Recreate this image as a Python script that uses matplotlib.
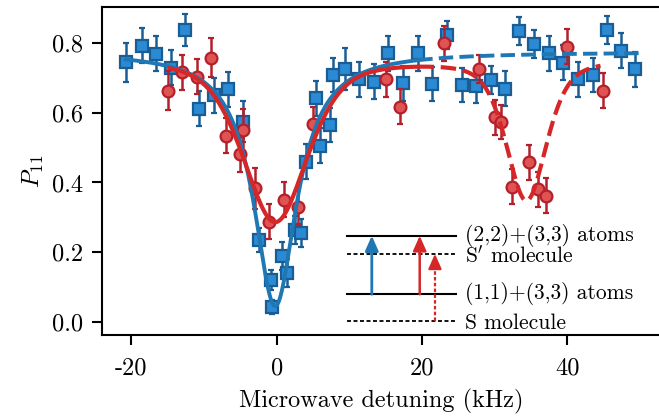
import numpy as np
import matplotlib
matplotlib.use('Agg')
import matplotlib.pyplot as plt

plt.rcParams['font.family'] = 'serif'
plt.rcParams['font.serif'] = ['cmr10']
plt.rcParams['mathtext.fontset'] = 'cm'
plt.rcParams['axes.unicode_minus'] = False
plt.rcParams['axes.formatter.use_mathtext'] = False

# (2,2)+(3,3) transition data (blue squares)
blue_x = [-20.7, -18.6, -16.6, -14.6, -12.6, -10.7, -8.6, -6.7, -4.7,
          -2.5, -0.8, -0.6, 0.8, 1.4, 2.5, 3.4, 4.1, 5.4, 6.0, 7.3, 7.7,
          9.4, 11.4, 13.4, 15.4, 17.4, 19.4, 21.4, 23.4, 25.5, 27.5, 29.5,
          31.4, 33.4, 35.5, 37.5, 39.5, 41.5, 43.5, 45.5, 47.4, 49.4]
blue_y = [0.745, 0.793, 0.770, 0.730, 0.838, 0.612, 0.650, 0.668, 0.575,
          0.235, 0.120, 0.042, 0.190, 0.141, 0.264, 0.256, 0.460, 0.642, 0.506, 0.565, 0.709,
          0.726, 0.697, 0.690, 0.771, 0.685, 0.771, 0.683, 0.824, 0.680, 0.677, 0.694,
          0.669, 0.836, 0.797, 0.771, 0.744, 0.697, 0.709, 0.838, 0.778, 0.725]
blue_err = [0.057, 0.05, 0.05, 0.05, 0.045, 0.05, 0.05, 0.05, 0.06,
            0.035, 0.03, 0.02, 0.04, 0.04, 0.04, 0.04, 0.05, 0.05, 0.05, 0.05, 0.05,
            0.06, 0.05, 0.05, 0.05, 0.05, 0.05, 0.05, 0.04, 0.05, 0.05, 0.04,
            0.05, 0.04, 0.04, 0.05, 0.05, 0.05, 0.05, 0.04, 0.05, 0.05]

# (1,1)+(3,3) transition data (red circles)
red_x = [-15.0, -13.0, -11.0, -9.0, -7.0, -5.0, -4.7, -3.0, -1.0, 1.0, 3.0, 5.0,
         15.1, 17.0, 23.0, 27.8, 30.1, 30.9, 32.4, 34.8, 36.0, 37.1, 40.0, 45.0]
red_y = [0.664, 0.716, 0.704, 0.759, 0.534, 0.481, 0.551, 0.383, 0.287, 0.350, 0.329, 0.568,
         0.697, 0.618, 0.800, 0.726, 0.587, 0.574, 0.388, 0.458, 0.381, 0.362, 0.790, 0.664]
red_err = [0.055, 0.05, 0.05, 0.055, 0.05, 0.05, 0.06, 0.06, 0.05, 0.05, 0.05, 0.05,
           0.05, 0.05, 0.05, 0.04, 0.05, 0.05, 0.05, 0.05, 0.05, 0.05, 0.05, 0.05]

# fit parameters: baseline, depth, centre, hwhm, lorentz fraction
blue_fit = dict(base=0.775, dips=[(0.73, -0.2, 3.6, 1.0)])
red_fit = dict(base=0.758, dips=[(0.47, -0.2, 5.3, 0.5), (0.405, 34.4, 3.3, 0.5)])
solid_end = 19.5


def model(x, fit):
    y = np.full_like(x, fit['base'])
    for amp, x0, h, eta in fit['dips']:
        r2 = ((x - x0) / h) ** 2
        y -= amp * (eta / (1 + r2) + (1 - eta) * np.exp(-np.log(2) * r2))
    return y


c_blue_face, c_blue_edge, c_blue_line = '#2a8ad4', '#1a5d94', '#1f77b4'
c_red_face, c_red_edge, c_red_line = '#e05353', '#b3202b', '#d62728'

fig = plt.figure(figsize=(6.59, 4.18), dpi=100)
ax = fig.add_axes([0.1543, 0.1986, 0.8495, 0.7854])

ax.errorbar(blue_x, blue_y, yerr=blue_err, fmt='s', ms=8, mfc=c_blue_face, mec=c_blue_edge,
            mew=1.6, ecolor=c_blue_edge, elinewidth=1.8, capsize=2.5, capthick=1.8, zorder=2)
ax.errorbar(red_x, red_y, yerr=red_err, fmt='o', ms=8.5, mfc=c_red_face, mec=c_red_edge,
            mew=1.6, ecolor=c_red_edge, elinewidth=1.8, capsize=2.5, capthick=1.8, zorder=3)

xb = np.linspace(-20.8, 50, 600)
yb = model(xb, blue_fit)
ax.plot(xb[xb <= solid_end], yb[xb <= solid_end], color=c_blue_line, lw=2.8, zorder=4)
ax.plot(xb[xb >= solid_end], yb[xb >= solid_end], color=c_blue_line, lw=2.8, ls='--', zorder=4)

xr = np.linspace(-14.7, 44.6, 600)
yr = model(xr, red_fit)
ax.plot(xr[xr <= solid_end], yr[xr <= solid_end], color=c_red_line, lw=3, zorder=5)
ax.plot(xr[xr >= solid_end], yr[xr >= solid_end], color=c_red_line, lw=3, ls='--', zorder=5)

# level diagram inset
lvl_x0, lvl_x1 = 9.7, 24.7
lvl_top, lvl_sp, lvl_mid, lvl_s = 0.247, 0.195, 0.079, 0.002
ax.plot([lvl_x0, lvl_x1], [lvl_top, lvl_top], color='black', lw=1.5, zorder=6)
ax.plot([lvl_x0, lvl_x1], [lvl_mid, lvl_mid], color='black', lw=1.5, zorder=6)
ax.plot([lvl_x0, lvl_x1], [lvl_sp, lvl_sp], color='black', lw=1.3, ls=(0, (2.2, 1.4)), zorder=6)
ax.plot([lvl_x0, lvl_x1], [lvl_s, lvl_s], color='black', lw=1.3, ls=(0, (2.2, 1.4)), zorder=6)

arrow_kw = dict(arrowstyle='-|>,head_length=0.45,head_width=0.2', mutation_scale=20,
                shrinkA=0, shrinkB=0)
ax.annotate('', xy=(13.1, lvl_top), xytext=(13.1, lvl_mid),
            arrowprops=dict(color=c_blue_line, lw=2, **arrow_kw), zorder=7)
ax.annotate('', xy=(19.7, lvl_top), xytext=(19.7, lvl_mid),
            arrowprops=dict(color=c_red_line, lw=1.8, **arrow_kw), zorder=7)
ax.plot([21.8, 21.8], [lvl_s, lvl_sp - 0.03], color=c_red_line, lw=1.6, ls=(0, (1.6, 1.0)), zorder=7)
ax.annotate('', xy=(21.8, lvl_sp), xytext=(21.8, lvl_sp - 0.035),
            arrowprops=dict(color=c_red_line, lw=1.6, **arrow_kw), zorder=7)

lbl_x = 25.9
ax.text(lbl_x, lvl_top + 0.002, '(2,2)+(3,3) atoms', fontsize=15.5, va='center', ha='left')
ax.text(lbl_x, lvl_sp - 0.006, r'$\mathrm{S}^{\prime}$ molecule', fontsize=15.5, va='center', ha='left')
ax.text(lbl_x, lvl_mid + 0.002, '(1,1)+(3,3) atoms', fontsize=15.5, va='center', ha='left')
ax.text(lbl_x, lvl_s - 0.006, 'S molecule', fontsize=15.5, va='center', ha='left')

ax.set_xlim(-24.1, 53.0)
ax.set_ylim(-0.038, 0.905)
ax.set_xticks([-20, 0, 20, 40])
ax.set_yticks([0.0, 0.2, 0.4, 0.6, 0.8])
ax.tick_params(labelsize=17.5, length=7, width=1.5, pad=6.5)
ax.tick_params(axis='x', pad=9)
for s in ax.spines.values():
    s.set_linewidth(1.5)

ax.set_xlabel('Microwave detuning (kHz)', fontsize=17.5, labelpad=7)
ax.set_ylabel(r'$P_{11}$', fontsize=17.5, labelpad=4)

fig.savefig('out.png', dpi=100)
